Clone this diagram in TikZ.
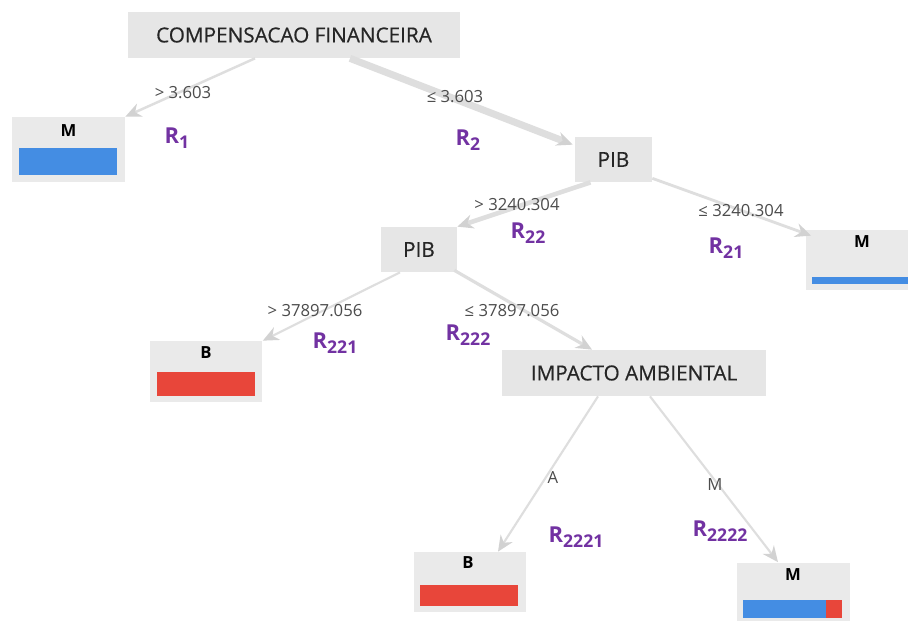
\documentclass[tikz,border=0pt]{standalone}
\usepackage{fontspec}
\setmainfont{Open Sans}
\newfontfamily\semib[FakeBold=0.5]{Open Sans}
\usetikzlibrary{calc,arrows.meta}
\definecolor{boxgray}{HTML}{E6E6E6}
\definecolor{edgegray}{HTML}{DEDEDE}
\definecolor{tipgray}{HTML}{D2D2D2}
\definecolor{leafblue}{HTML}{448DE3}
\definecolor{leafred}{HTML}{E8463A}
\definecolor{regpurple}{HTML}{7232A2}
\newcommand{\reg}[1]{R\raisebox{-0.4ex}{\fontsize{10}{10}\selectfont #1}}
\begin{document}
\begin{tikzpicture}[x=0.02cm,y=-0.02cm,
      n/.style={fill=boxgray,inner sep=0pt,text=black!85,font=\semib\fontsize{11.8}{13}\selectfont},
      leaf/.style={fill=boxgray!85,inner sep=0pt,minimum width=2.26cm,minimum height=1.2cm},
      lt/.style={font=\bfseries\fontsize{9.5}{11}\selectfont},
      e/.style={draw=edgegray,line width=#1,-{Stealth[length=9pt,width=8pt,color=tipgray,fill=tipgray]}},
      lab/.style={font=\fontsize{9.5}{11}\selectfont,text=black!70},
      r/.style={font=\bfseries\fontsize{12.5}{14}\selectfont,text=regpurple}]
      \clip (0,0) rectangle (908,621);
      \fill[white] (0,0) rectangle (908,621);
      \node[n,minimum width=6.64cm,minimum height=0.92cm] (root) at (294,35) {COMPENSACAO FINANCEIRA};
      \node[n,minimum width=1.54cm,minimum height=0.9cm] (pib1) at (613.5,159.5) {PIB};
      \node[n,minimum width=1.52cm,minimum height=0.9cm] (pib2) at (419,249.5) {PIB};
      \node[n,minimum width=5.28cm,minimum height=0.92cm] (imp) at (634,373) {IMPACTO AMBIENTAL};
      \node[leaf,minimum height=1.3cm] (m1) at (68.5,149.5) {};
      \node[leaf] (m2) at (862,260) {};
      \node[leaf,minimum height=1.22cm] (b1) at (206,371.5) {};
      \node[leaf] (b2) at (470,582) {};
      \node[leaf,minimum height=1.3cm] (m3) at (793,595) {};
      \node[lt] (m1t) at ($(m1.north)+(0,14)$) {M};
      \node[lt] (m2t) at ($(m2.north)+(0,12)$) {M};
      \node[lt] (b1t) at ($(b1.north)+(0,12)$) {B};
      \node[lt] (b2t) at ($(b2.north)+(-2,11)$) {B};
      \node[lt] (m3t) at ($(m3.north)+(0,12)$) {M};
      \fill[leafblue] (19,148) rectangle (117,175);
      \fill[leafblue] (812,277) rectangle (911,284);
      \fill[leafred] (157,372) rectangle (255,396);
      \fill[leafred] (420,585) rectangle (518,606);
      \fill[leafblue] (743,600) rectangle (826,618);
      \fill[leafred] (826,600) rectangle (842,618);
      \draw[e=1.4pt] ($(root.south)+(-39,0)$) -- (m1.north east);
      \draw[e=4pt] ($(root.south)+(56,0)$) -- ($(pib1.north west)+(-2,8)$);
      \draw[e=2.6pt] ($(pib1.south)+(-23,0)$) -- (pib2.north east);
      \draw[e=1.6pt] ($(pib1.south east)+(0,-4)$) -- ($(m2.north west)+(6,6)$);
      \draw[e=1.2pt] ($(pib2.south)+(-19,0)$) -- (b1.north east);
      \draw[e=1.8pt] ($(pib2.south east)+(-3,-2)$) -- ($(imp.north)+(-42,0)$);
      \draw[e=1.2pt] ($(imp.south)+(-36,0)$) -- ($(b2.north)+(28,0)$);
      \draw[e=1.2pt] ($(imp.south)+(16,0)$) -- ($(m3.north)+(-15,0)$);
      \node[lab] (l1) at (183,93) {> 3.603};
      \node[lab] (l2) at (455,97) {≤ 3.603};
      \node[lab] (l22) at (517,205) {> 3240.304};
      \node[lab] (l21) at (741,211) {≤ 3240.304};
      \node[lab] (l221) at (315,311) {> 37897.056};
      \node[lab] (l222) at (512,311) {≤ 37897.056};
      \node[lab] (l2221) at (553,478) {A};
      \node[lab] (l2222) at (715,485) {M};
      \node[r] (r1) at (177,138) {\reg{1}};
      \node[r] (r2) at (468,140) {\reg{2}};
      \node[r] (r22) at (528,233) {\reg{22}};
      \node[r] (r21) at (726,248) {\reg{21}};
      \node[r] (r221) at (335,343) {\reg{221}};
      \node[r] (r222) at (468,335) {\reg{222}};
      \node[r] (r2221) at (576,537) {\reg{2221}};
      \node[r] (r2222) at (720,531) {\reg{2222}};
  \end{tikzpicture}
\end{document}
